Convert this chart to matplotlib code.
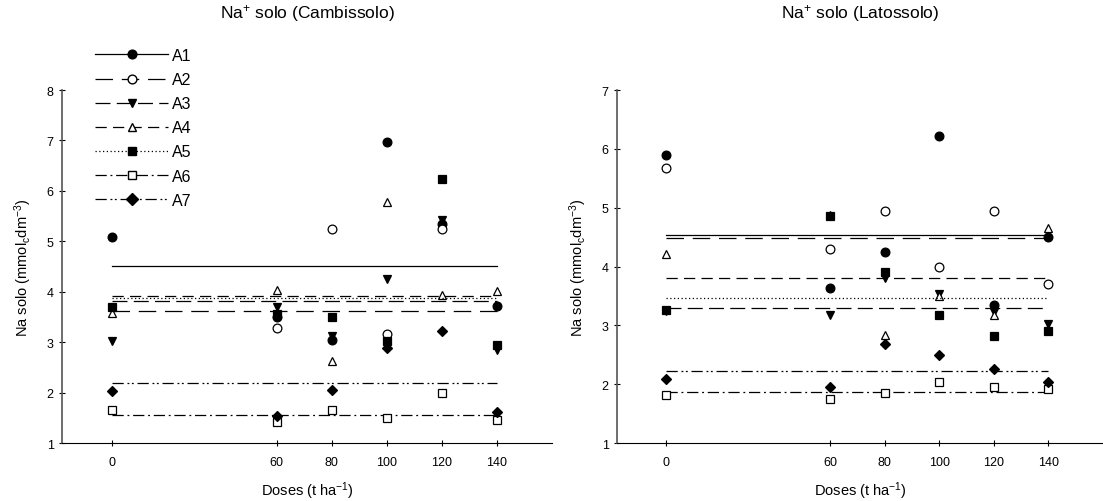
import matplotlib
matplotlib.use("Agg")
import matplotlib.pyplot as plt
import numpy as np
from matplotlib.lines import Line2D

plt.rcParams["font.family"] = ["Liberation Sans", "DejaVu Sans"]
plt.rcParams["mathtext.default"] = "regular"

# ---- data ----------------------------------------------------------------
doses = [0, 60, 80, 100, 120, 140]
series = ["A1", "A2", "A3", "A4", "A5", "A6", "A7"]

# Cambissolo (left panel); nan = point hidden under another marker
camb_A1 = [5.08, 3.49, 3.05, 6.97, 5.34, 3.71]
camb_A2 = [np.nan, 3.28, 5.24, 3.17, 5.24, np.nan]
camb_A3 = [3.03, 3.69, 3.12, 4.26, 5.43, 2.85]
camb_A4 = [3.58, 4.04, 2.63, 5.78, 3.94, 4.01]
camb_A5 = [3.69, 3.56, 3.49, 3.03, 6.23, 2.94]
camb_A6 = [1.66, 1.41, 1.66, 1.49, 2.00, 1.46]
camb_A7 = [2.04, 1.54, 2.05, 2.89, 3.23, 1.62]
camb_mean = [4.52, 3.61, 3.81, 3.92, 3.88, 1.56, 2.20]

# Latossolo (right panel)
lat_A1 = [5.89, 3.64, 4.25, 6.22, 3.34, 4.51]
lat_A2 = [5.67, 4.29, 4.94, 3.99, 4.94, 3.70]
lat_A3 = [3.25, 3.17, 3.80, 3.54, 3.22, 3.02]
lat_A4 = [4.21, 4.88, 2.84, 3.50, 3.18, 4.66]
lat_A5 = [3.26, 4.86, 3.91, 3.18, 2.82, 2.90]
lat_A6 = [1.82, 1.74, 1.85, 2.03, 1.95, 1.91]
lat_A7 = [2.08, 1.95, 2.68, 2.49, 2.25, 2.03]
lat_mean = [4.53, 4.49, 3.30, 3.81, 3.47, 1.86, 2.22]

camb = [camb_A1, camb_A2, camb_A3, camb_A4, camb_A5, camb_A6, camb_A7]
lat = [lat_A1, lat_A2, lat_A3, lat_A4, lat_A5, lat_A6, lat_A7]

# marker, face colour, line style for each series
styles = [
    ("o", "black", "-"),
    ("o", "white", (0, (14, 7))),
    ("v", "black", (0, (12, 5))),
    ("^", "white", (0, (9, 5))),
    ("s", "black", (0, (1, 2))),
    ("s", "white", (0, (9, 3, 1.5, 3))),
    ("D", "black", (0, (9, 3, 1.5, 2, 1.5, 3))),
]


def panel(ax, values, means, ymax, title):
    for vals, m, (mk, fc, ls) in zip(values, means, styles):
        ax.plot([doses[0], doses[-1]], [m, m], color="black", lw=0.9, ls=ls)
        ms = 5.5 if mk == "D" else 6.3
        ax.plot(doses, vals, ls="none", marker=mk, ms=ms, mfc=fc,
                mec="black", mew=0.9)
    ax.set_xlim(-18, 160)
    ax.set_ylim(1, ymax)
    ax.set_xticks(doses)
    ax.set_yticks(range(1, ymax + 1))
    for s in ("top", "right"):
        ax.spines[s].set_visible(False)
    ax.spines["left"].set_color("#555555")
    ax.spines["left"].set_linewidth(1.2)
    ax.tick_params(direction="inout", length=5, width=0.8, labelsize=9)
    ax.tick_params(axis="x", pad=7)
    ax.set_xlabel("Doses (t ha$^{-1}$)", fontsize=10.5, labelpad=8)
    ax.set_ylabel("Na solo (mmol$_c$dm$^{-3}$)", fontsize=10.5, labelpad=9)
    ax.set_title(title, fontsize=12.5, pad=0, y=1.205)


fig = plt.figure(figsize=(11.03, 5.02), dpi=100)
ax1 = fig.add_axes([0.0562, 0.1155, 0.4443, 0.7032])
ax2 = fig.add_axes([0.5594, 0.1155, 0.4406, 0.7032])

panel(ax1, camb, camb_mean, 8, "Na$^{+}$ solo (Cambissolo)")
panel(ax2, lat, lat_mean, 7, "Na$^{+}$ solo (Latossolo)")

handles = [
    Line2D([], [], color="black", lw=0.9, ls=ls, marker=mk, mfc=fc,
           mec="black", ms=6.3 if mk != "D" else 5.8)
    for mk, fc, ls in styles
]
fig.legend(handles, series, loc="upper left", frameon=False,
           bbox_to_anchor=(95 / 1103, 1 - 49 / 502),
           bbox_transform=fig.transFigure, borderpad=0, borderaxespad=0,
           handlelength=4.6, handletextpad=0.25, labelspacing=0.57,
           fontsize=11.5, numpoints=1)

fig.savefig("out.png", dpi=100)
